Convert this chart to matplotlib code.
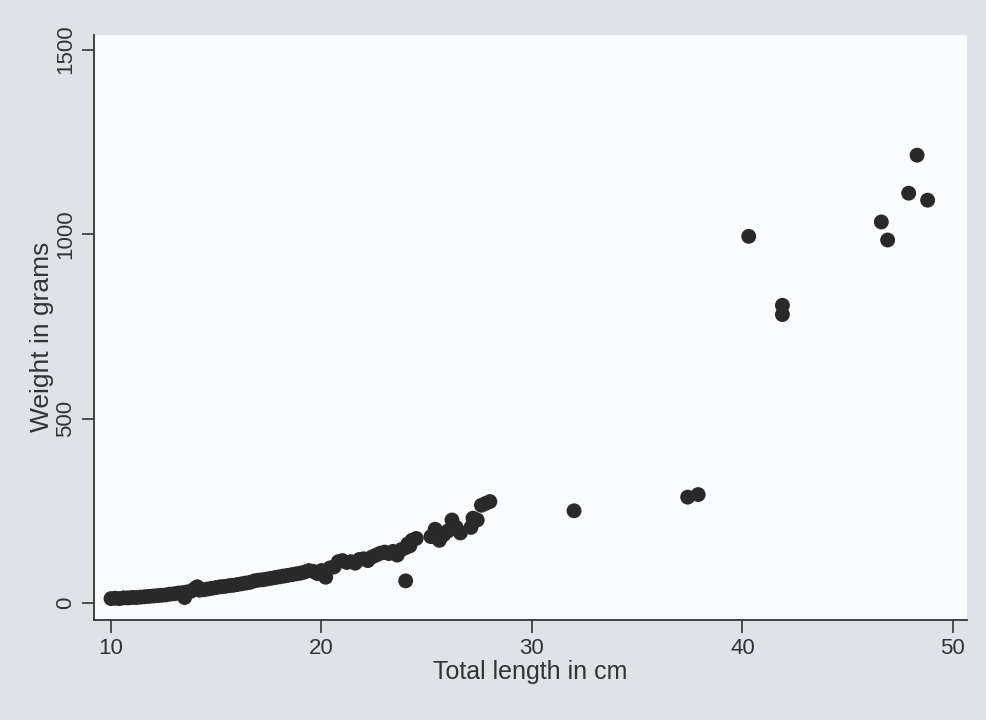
import matplotlib
matplotlib.use("Agg")
import matplotlib.pyplot as plt

# fish length (cm) and weight (g)
length_cm = [
    10.0, 10.2, 10.4, 10.6, 10.8, 11.0, 11.2, 11.4, 11.6, 11.8,
    12.0, 12.2, 12.4, 12.6, 12.8, 13.0, 13.2, 13.4, 13.5, 13.6,
    13.8, 14.0, 14.1, 14.2, 14.4, 14.6, 14.8, 15.0, 15.2, 15.4,
    15.6, 15.8, 16.0, 16.2, 16.4, 16.6, 16.8, 17.0, 17.2, 17.4,
    17.6, 17.8, 18.0, 18.2, 18.4, 18.6, 18.8, 19.0, 19.2, 19.4,
    19.6, 19.8, 20.0, 20.2, 20.4, 20.6, 20.8, 21.0, 21.2, 21.4,
    21.6, 21.8, 22.0, 22.2, 22.4, 22.6, 22.8, 23.0, 23.2, 23.4,
    23.6, 23.8, 24.0, 24.0, 24.1, 24.2, 24.3, 24.5, 25.2, 25.4,
    25.4, 25.6, 25.8, 26.0, 26.2, 26.4, 26.6, 27.1, 27.2, 27.4,
    27.6, 27.8, 28.0,
    32.0, 37.4, 37.9, 40.3, 41.9, 41.9,
    46.6, 46.9, 47.9, 48.3, 48.8,
]
weight_g = [
    12, 13, 12, 14, 14, 15, 15, 16, 17, 18,
    19, 20, 21, 22, 24, 25, 27, 28, 15, 30,
    32, 40, 44, 35, 36, 38, 40, 42, 44, 45,
    47, 48, 50, 52, 54, 56, 60, 62, 63, 65,
    67, 69, 71, 73, 75, 77, 79, 81, 84, 88,
    86, 80, 88, 70, 95, 98, 112, 115, 110, 112,
    108, 118, 120, 115, 125, 130, 135, 138, 134, 140,
    130, 145, 150, 60, 160, 155, 170, 175, 180, 190,
    200, 170, 185, 195, 225, 205, 190, 205, 230, 225,
    265, 270, 275,
    250, 287, 294, 994, 807, 782,
    1033, 984, 1111, 1214, 1092,
]

x_ticks = [10, 20, 30, 40, 50]
y_ticks = [0, 500, 1000, 1500]

plt.rcParams["font.family"] = ["Liberation Sans", "DejaVu Sans"]

fig = plt.figure(figsize=(9.86, 7.2), dpi=100, facecolor="#dfe3e8")
ax = fig.add_axes([0.0953, 0.1389, 0.8854, 0.8121])
ax.set_facecolor("#f9fbfd")

ax.scatter(length_cm, weight_g, s=115, color="#292929", edgecolors="none", zorder=3)

ax.set_xlim(9.19, 50.67)
ax.set_ylim(-46, 1539)
ax.set_xticks(x_ticks)
ax.set_yticks(y_ticks)
ax.set_xticklabels([str(t) for t in x_ticks], fontsize=16, color="#333333")
ax.set_yticklabels([str(t) for t in y_ticks], fontsize=16, color="#333333",
                   rotation=90, va="center")
ax.tick_params(axis="both", direction="out", length=9, width=1.2, color="#333333", pad=4)

for side in ("top", "right"):
    ax.spines[side].set_visible(False)
for side in ("left", "bottom"):
    ax.spines[side].set_color("#333333")
    ax.spines[side].set_linewidth(1.3)

ax.set_xlabel("Total length in cm", fontsize=18, color="#333333", labelpad=1)
ax.set_ylabel("Weight in grams", fontsize=19, color="#333333")
ax.yaxis.set_label_coords(-0.046, 0.484)

fig.savefig("out.png", dpi=100, facecolor=fig.get_facecolor())
